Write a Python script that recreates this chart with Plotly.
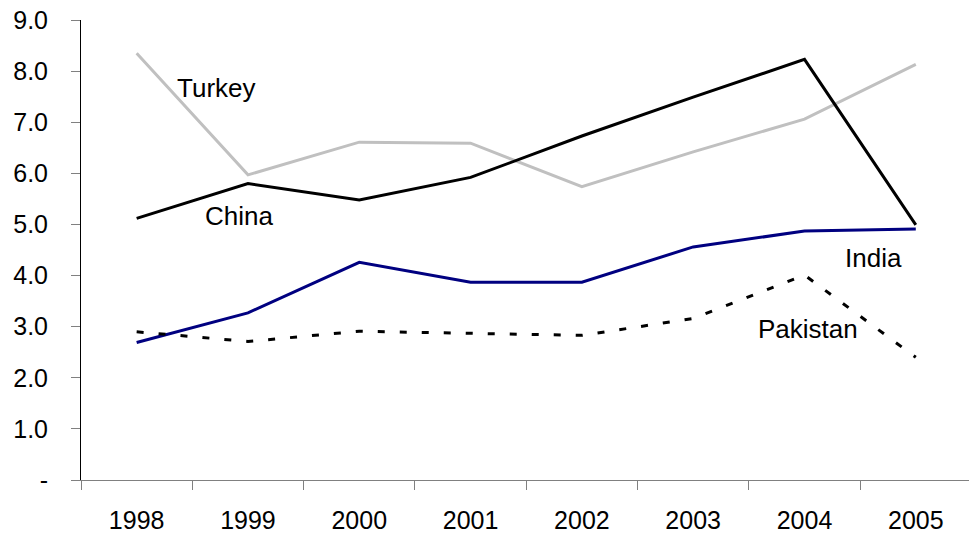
import plotly.graph_objects as go

years = ["1998", "1999", "2000", "2001", "2002", "2003", "2004", "2005"]
turkey = [8.35, 5.97, 6.61, 6.59, 5.74, 6.42, 7.06, 8.13]
china = [5.12, 5.80, 5.48, 5.92, 6.73, 7.49, 8.23, 4.99]
india = [2.69, 3.27, 4.26, 3.87, 3.87, 4.56, 4.87, 4.91]
pakistan = [2.90, 2.71, 2.91, 2.87, 2.83, 3.16, 4.01, 2.40]

y_ticks = [0, 1, 2, 3, 4, 5, 6, 7, 8, 9]
y_ticktext = ["-", "1.0", "2.0", "3.0", "4.0", "5.0", "6.0", "7.0", "8.0", "9.0"]

FONT = "Liberation Sans Narrow, Arial Narrow, Liberation Sans, Arial, sans-serif"

fig = go.Figure()
fig.add_trace(go.Scatter(x=years, y=turkey, mode="lines", name="Turkey",
                         line=dict(color="#C0C0C0", width=3)))
fig.add_trace(go.Scatter(x=years, y=china, mode="lines", name="China",
                         line=dict(color="#000000", width=3)))
fig.add_trace(go.Scatter(x=years, y=india, mode="lines", name="India",
                         line=dict(color="#000080", width=3)))
fig.add_trace(go.Scatter(x=years, y=pakistan, mode="lines", name="Pakistan",
                         line=dict(color="#000000", width=3, dash="7px,15px")))

labels = [("Turkey", 0.72, 7.67), ("China", 0.92, 5.17),
          ("India", 6.62, 4.34), ("Pakistan", 6.03, 2.95)]
for txt, xi, yv in labels:
    fig.add_annotation(x=xi, y=yv, xref="x", yref="y", text=txt, showarrow=False,
                       font=dict(family=FONT, size=26, color="#000000"),
                       xanchor="center", yanchor="middle")

fig.update_layout(
    width=969, height=537,
    margin=dict(l=81, r=0, t=20, b=57),
    paper_bgcolor="white", plot_bgcolor="white",
    showlegend=False,
    font=dict(family=FONT, size=25, color="#000000"),
    xaxis=dict(type="category", range=[-0.5, 7.478], tickson="boundaries",
               ticks="outside", ticklen=9, tickcolor="#808080", tickwidth=1,
               showline=True, linecolor="#808080", linewidth=1,
               showgrid=False, zeroline=False, ticklabelstandoff=18,
               tickfont=dict(family=FONT, size=25, color="#000000")),
    yaxis=dict(range=[0, 9], tickvals=y_ticks, ticktext=y_ticktext,
               ticks="outside", ticklen=9, tickcolor="#808080", tickwidth=1,
               showline=True, linecolor="#000000", linewidth=1,
               showgrid=False, zeroline=False, ticklabelstandoff=18,
               tickfont=dict(family=FONT, size=25, color="#000000")),
)

fig.write_html("out.html")
